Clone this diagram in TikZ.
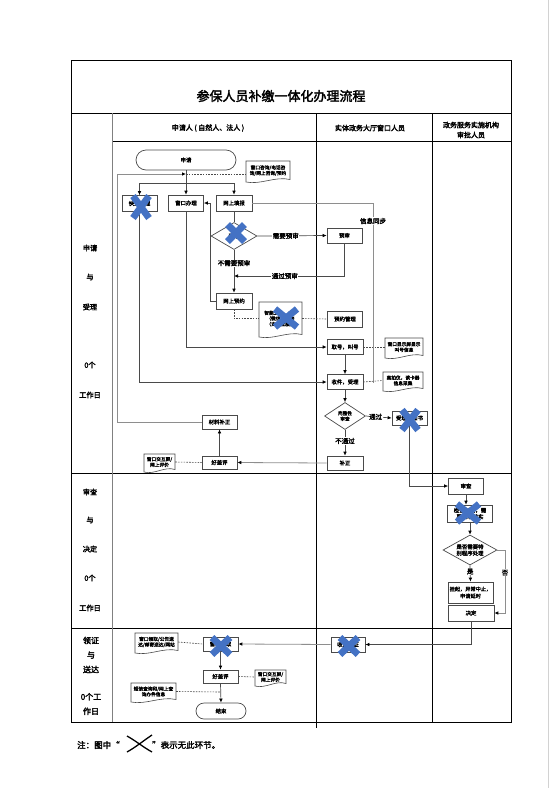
\documentclass[tikz,border=0pt]{standalone}
\usepackage{fontspec}
\setmainfont{Noto Sans CJK SC}[BoldFont={Noto Sans CJK SC}, BoldFeatures={FakeBold=2.5}]
\usetikzlibrary{arrows.meta,shapes.geometric}
\definecolor{xblue}{HTML}{4472C4}
\definecolor{bline}{HTML}{4A4A4A}
\definecolor{gline}{HTML}{8E8E8E}
\newcommand\ftbox{\fontsize{5.4}{6.4}\selectfont\bfseries}
\newcommand\ftdoc{\fontsize{4.7}{5.6}\selectfont\bfseries}
\newcommand\ftlab{\fontsize{6.5}{7.5}\selectfont\bfseries}
\newcommand\fthead{\fontsize{7}{10}\selectfont\bfseries}
\newcommand\ftstage{\fontsize{7.2}{8}\selectfont\bfseries}
\newcommand\ftstagebig{\fontsize{8}{14.5}\selectfont\bfseries}
\newcommand\fttitle{\fontsize{13}{15}\selectfont\bfseries}
\newcommand\ftnote{\fontsize{8.5}{10}\selectfont\bfseries}
\newcommand\docshape[6]{%
  \draw[docline] (#2,#3) -- (#4,#3) -- (#4,#5-2.5) .. controls ({#4-(#4-#2)/3},#5-6) and ({#2+(#4-#2)/3},#5+3) .. (#2,#5) -- cycle;
  \node[doctext, minimum width={(#4-#2)*1pt}, minimum height={(#5-#3-2)*1pt}] (#1) at ({(#2+#4)/2},{(#3+#5)/2-1}) {#6};}
\newcommand\bluex[4]{\draw[xmark] (#1-#3,#2-#4) -- (#1+#3,#2+#4) (#1-#3,#2+#4) -- (#1+#3,#2-#4);}
\begin{document}
\begin{tikzpicture}[x=1pt,y=-1pt,
  box/.style={draw=bline, line width=0.7pt, fill=white, inner sep=0.5pt, align=center, font=\ftbox},
  term/.style={box},
  dia/.style={draw=bline, line width=0.7pt, fill=white, diamond, aspect=1.8, inner sep=0pt, align=center, font=\ftbox},
  docline/.style={draw=bline, line width=0.6pt, fill=white},
  doctext/.style={inner sep=0pt, align=center, font=\ftdoc},
  arr/.style={draw=bline, line width=0.7pt, -{Latex[length=4pt,width=3.6pt,color=black]}},
  garr/.style={draw=gline, line width=0.8pt, -{Latex[length=4pt,width=3.6pt,color=black]}},
  glink/.style={draw=gline, line width=0.8pt},
  dotline/.style={draw=bline, line width=0.6pt, dash pattern=on 1.6pt off 1.2pt},
  lab/.style={fill=white, inner sep=0.6pt, font=\ftlab},
  xmark/.style={draw=xblue, line width=6.8pt},
  tab/.style={draw=black, line width=0.9pt},
  stage/.style={font=\ftstage, align=center, inner sep=0pt},
  head/.style={font=\fthead, align=center, inner sep=0pt}]
\fill[white] (0,0) rectangle (559,788);
\useasboundingbox (0,0) rectangle (559,788);
\draw[gray!35, line width=0.8pt] (548,0) -- (548,788);

% table
\draw[tab] (71,60) rectangle (511,722);
\draw[tab] (71,113) -- (511,113);
\draw[tab] (112,141) -- (511,141);
\draw[tab] (71,473) -- (511,473);
\draw[tab] (71,628) -- (511,628);
\draw[draw=gray, line width=0.8pt] (112,113) -- (112,722);
\draw[tab] (316,113) -- (316,728);
\draw[tab] (432,113) -- (432,722);

\node[font=\fttitle] (title) at (281,96) {参保人员补缴一体化办理流程};
\node[head] (h1) at (208,128) {申请人 ( 自然人、法人 )};
\node[head] (h2) at (370,128) {实体政务大厅窗口人员};
\node[head] (h3) at (471,130) {政务服务实施机构\\审批人员};

% stage labels
\node[stage] (s1a) at (90,248) {申请};
\node[stage] (s1b) at (90,277) {与};
\node[stage] (s1c) at (90,307) {受理};
\node[stage] (s1d) at (90,365) {0个};
\node[stage] (s1e) at (90,395) {工作日};
\node[stage] (s2a) at (90,492) {审查};
\node[stage] (s2b) at (90,520) {与};
\node[stage] (s2c) at (90,549) {决定};
\node[stage] (s2d) at (90,578) {0个};
\node[stage] (s2e) at (90,608) {工作日};
\node[font=\ftstagebig, align=center, inner sep=0pt] (s3a) at (91,655) {领证\\与\\送达};
\node[font=\ftstagebig, align=center, inner sep=0pt] (s3b) at (91,704) {0个工\\作日};

% row 1 nodes
\node[term, minimum width=100, minimum height=20, rounded corners=10pt] (apply) at (186,160) {申请};
\docshape{consult}{246}{161}{290}{182}{窗口咨询/电话咨\\询/网上咨询/预约}
\node[box, minimum width=35, minimum height=16] (express) at (139.5,203.5) {快递办理};
\node[box, minimum width=35, minimum height=16] (window) at (186,203) {窗口办理};
\node[box, minimum width=36, minimum height=16] (online) at (234,203) {网上填报};
\node[dia, minimum width=46, minimum height=27] (pre) at (234,236) {预审};
\node[box, minimum width=35, minimum height=15] (prebox) at (344.5,235.5) {预审};
\node[box, minimum width=36, minimum height=16] (book) at (234,301) {网上预约};
\docshape{app}{259}{302}{302}{337}{智能之窗，APP\\（微信小程序\\（支付宝服务}
\node[box, minimum width=35, minimum height=16] (bookmgr) at (345,319) {预约管理};
\node[box, minimum width=36, minimum height=15] (number) at (345,347) {取号，叫号};
\docshape{screen}{385}{338}{423}{358}{窗口显示屏显示\\叫号信息}
\node[box, minimum width=36, minimum height=15] (accept) at (345,382) {收件，受理};
\docshape{scanner}{383}{372}{423}{391}{高拍仪，读卡器\\信息采集}
\node[dia, aspect=1.5, minimum width=41, minimum height=27, font=\ftdoc] (check) at (345,416) {完整性\\审查};
\node[box, minimum width=35, minimum height=14] (notice) at (409.5,418) {受理通知书};
\node[box, minimum width=36, minimum height=14] (fix) at (345,463) {补正};
\node[box, minimum width=35, minimum height=13] (eval1) at (219.5,462.5) {好差评};
\docshape{evaldoc1}{144}{454}{175}{472}{窗口交互屏/\\网上评价}
\node[box, minimum width=35, minimum height=14] (supp) at (219.5,422) {材料补正};

% row 2 nodes
\node[box, minimum width=35, minimum height=16] (review) at (466,486) {审查};
\node[box, minimum width=45, minimum height=17] (verify) at (470,513.5) {检查材料，需\\要现场核实};
\node[dia, minimum width=54, minimum height=30] (special) at (470,550) {是否需要特\\别程序处理};
\node[box, minimum width=45, minimum height=21, font=\fontsize{5.2}{7}\selectfont\bfseries] (suspend) at (470.5,592.5) {挂起，异常中止，\\申请延时};
\node[box, minimum width=46, minimum height=16] (decide) at (471,613) {决定};

% row 3 nodes
\node[box, minimum width=34, minimum height=15] (issue) at (348,644.5) {收费发证};
\node[box, minimum width=35, minimum height=14] (get) at (220.5,644) {窗口领取};
\docshape{deliver}{135}{633}{178}{653}{窗口领取/公告送\\达/邮寄送达/网站}
\node[box, minimum width=35, minimum height=13] (eval2) at (220.5,676.5) {好差评};
\docshape{evaldoc2}{255}{670}{286}{686}{窗口交互屏/\\网上评价}
\docshape{sms}{131}{683}{176}{702}{短信查询和/网上查\\询办件信息}
\node[term, minimum width=50, minimum height=16, rounded corners=8pt] (end) at (221,711) {结束};

% coordinates
\coordinate (split) at (186,183);
\coordinate (j1) at (186,174);
\coordinate (loopc) at (117,174);
\coordinate (cw) at (210,203);
\coordinate (j2) at (234,276);
\coordinate (syncend) at (373,383);
\coordinate (cno) at (505,613);
\coordinate (csms) at (220.5,692);

% connectors row 1
\draw[arr] (apply.south) -- (window.north);
\draw[arr] (split) -| (express.north);
\draw[arr] (split) -| (online.north);
\draw[dotline] (j1) -- (j1 -| consult.west);
\draw[garr] (supp.west) -| (loopc) -- (j1);
\draw[glink] (online.east) -| node[lab, pos=0.55] {信息同步} (syncend);
\draw[bline, line width=0.7pt] (online.south) -- (pre.north);
\draw[arr] (pre.east) -- node[lab, pos=0.41] {需要预审} (prebox.west);
\draw[arr] (prebox.south) |- node[lab, pos=0.77] {通过预审} (j2);
\draw[arr] (pre.south) -- node[lab, pos=0.31] {不需要预审} (book.north);
\draw[arr] (book.west) -| (cw) -- (window.east);
\draw[dotline] (book.south) |- (app.west);
\draw[dotline] (app.east) -- (bookmgr.west);
\draw[arr] (window.south) |- (number.west);
\draw[arr] (number.south) -- (accept.north);
\draw[dotline] (number.east) -- (screen.west);
\draw[arr] (express.south) |- (accept.west);
\draw[dotline] (accept.east) -- (scanner.west);
\draw[arr] (accept.south) -- (check.north);
\draw[arr] (check.east) -- node[lab, pos=0.38] {通过} (notice.west);
\draw[arr] (check.south) -- node[lab, pos=0.43] {不通过} (fix.north);
\draw[garr] (fix.west) -- (eval1.east);
\draw[dotline] (evaldoc1.east) -- (eval1.west);
\draw[arr] (eval1.north) -- (supp.south);

% connectors row 2
\draw[arr] (notice.south) |- (review.west);
\draw[arr] (review.south) -- (review.south |- verify.north);
\draw[arr] (verify.south) -- (special.north);
\draw[arr] (special.south) -- node[lab, pos=0.38] {是} (suspend.north);
\draw[garr] (special.east) -| node[lab, pos=0.68] {否} (cno) -- (decide.east);
\draw[arr] (decide.south) |- (issue.east);

% connectors row 3
\draw[garr] (issue.west) -- (get.east);
\draw[dotline] (deliver.east) -- (get.west);
\draw[arr] (get.south) -- (eval2.north);
\draw[dotline] (eval2.east) -- (evaldoc2.west);
\draw[dotline] (sms.east) -- (csms);
\draw[arr] (eval2.south) -- (end.north);

% blue crosses
\bluex{141}{207}{8}{11}
\bluex{236}{233}{8.5}{8.5}
\bluex{286}{318}{11}{9}
\bluex{410}{420}{8}{10}
\bluex{468}{513}{11}{9}
\bluex{221}{646}{9}{8.5}
\bluex{349}{646}{9}{8.5}

% note
\node[font=\ftnote, anchor=west, inner sep=0pt] (note1) at (77,745) {注：图中“};
\draw[black, line width=1.3pt] (127,736) .. controls (136,741) and (143,747) .. (152,752);
\draw[black, line width=1.3pt] (127,752) .. controls (136,747) and (143,741) .. (152,735);
\node[font=\ftnote, anchor=west, inner sep=0pt] (note2) at (152,745) {”表示无此环节。};
\end{tikzpicture}
\end{document}
